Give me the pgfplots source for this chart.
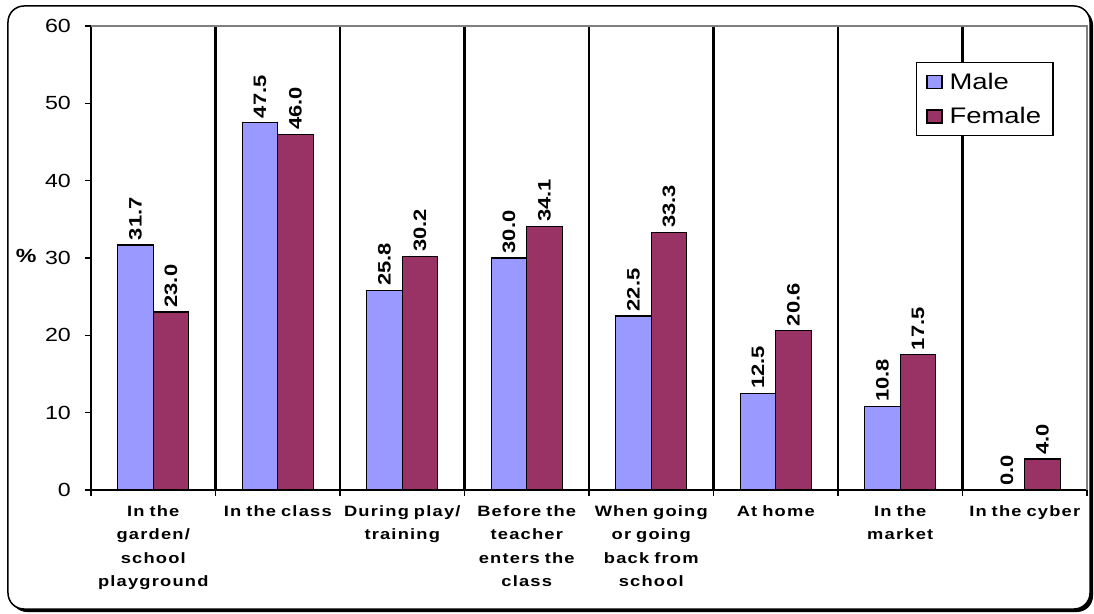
\documentclass[border=0pt]{standalone}
\usepackage{fontspec}
\setmainfont{Liberation Sans}[FakeStretch=1.22]
\usepackage{pgfplots}
\usepackage{pgfplotstable}
\pgfplotsset{compat=1.18}
\usetikzlibrary{backgrounds}
\definecolor{male}{HTML}{9999FF}
\definecolor{female}{HTML}{993366}
\definecolor{axgray}{HTML}{808080}

\pgfplotstableread{
x male female
0 31.7 23.0
1 47.5 46.0
2 25.8 30.2
3 30.0 34.1
4 22.5 33.3
5 12.5 20.6
6 10.8 17.5
7 0.0 4.0
}\data

\begin{document}
\begin{tikzpicture}
\begin{axis}[
  at={(0pt,0pt)}, anchor=south west,
  scale only axis, width=996pt, height=464pt,
  xmin=-0.5, xmax=7.5, ymin=0, ymax=60,
  clip=false,
  axis x line*=bottom, axis y line*=left,
  x axis line style={-, black, line width=2pt},
  y axis line style={-, black, line width=2pt},
  /pgf/number format/assume math mode=true,
  xtick={-0.5,0.5,...,7.5},
  xticklabels={},
  xtick pos=lower,
  x tick style={black, line width=1.6pt},
  xtick align=outside,
  major tick length=6pt,
  extra x ticks={0,1,...,7},
  extra x tick labels={{In the\\garden/\\school\\playground},{In the class},{During play/\\training},{Before the\\teacher\\enters the\\class},{When going\\or going\\back from\\school},{At home},{In the\\market},{In the cyber}},
  extra x tick style={grid=none, major tick length=0pt,
    tick label style={align=center, text width=124pt, anchor=north, yshift=-12pt,
      font=\bfseries\fontsize{15}{23.5}\selectfont\addfontfeature{LetterSpace=8}}},
  ytick={0,10,...,60},
  ytick pos=left,
  y tick style={black, line width=1.6pt},
  ytick align=outside,
  yticklabel style={font=\fontsize{19}{19}\selectfont, anchor=east, inner sep=0pt, xshift=-14pt},
  ybar=0pt,
  bar width=0.285,
  nodes near coords={\pgfmathprintnumber[fixed,fixed zerofill,precision=1]{\pgfplotspointmeta}},
  every node near coord/.append style={rotate=90, anchor=west, font=\bfseries\fontsize{18}{18}\selectfont, inner sep=4pt},
  legend style={at={(rel axis cs:0.828,0.922)}, anchor=north west, draw=black, line width=1.2pt,
    font=\fontsize{22.5}{22.5}\selectfont, row sep=13pt, inner xsep=10pt, inner ysep=8pt},
  legend image code/.code={\draw[#1, line width=1.2pt] (0pt,-6.5pt) rectangle (15pt,6.5pt);},
  legend cell align=left,
]
\pgfplotsinvokeforeach{0.5,1.5,2.5,3.5,4.5,5.5,6.5}{
  \draw[black, line width=2.6pt] (axis cs:#1,0) -- (axis cs:#1,60);
}
\addplot[fill=male, draw=black, line width=1.3pt, bar shift=-0.1425] table[x=x, y=male] {\data};
\addplot[fill=female, draw=black, line width=1.3pt, bar shift=0.1425] table[x=x, y=female] {\data};
\legend{\hspace{5pt}Male, \hspace{5pt}Female}
\draw[axgray, line width=2pt] (rel axis cs:0,1) -- (rel axis cs:1,1) -- (rel axis cs:1,0);
\node[font=\bfseries\fontsize{19}{19}\selectfont, anchor=east] at (rel axis cs:0,0.5) [xshift=-51pt, yshift=2pt] {\%};
\end{axis}
\begin{scope}[on background layer]
  \fill[black, rounded corners=16pt] (-80pt,-122pt) rectangle (1002pt,481pt);
  \draw[black, fill=white, line width=1.5pt, rounded corners=16pt] (-83pt,-119pt) rectangle (999pt,484pt);
\end{scope}
\pgfresetboundingbox
\useasboundingbox (-91pt,-123pt) rectangle (1003pt,490pt);
\end{tikzpicture}
\end{document}
